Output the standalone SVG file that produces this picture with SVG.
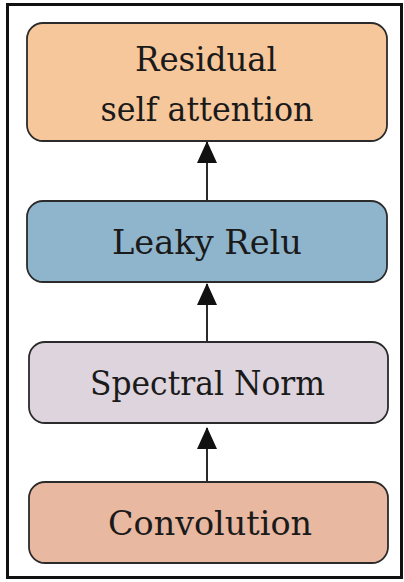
<svg xmlns="http://www.w3.org/2000/svg" width="404" height="582" viewBox="0 0 404 582">
  <style>
    .box { stroke: #2b2b2b; stroke-width: 1.8; }
    .lbl { font-family: 'DejaVu Serif', serif; font-size: 34px; fill: #1a1a1a; text-anchor: middle; }
    .edge { stroke: #2b2b2b; stroke-width: 2; fill: none; }
  </style>
  <defs>
    <marker id="arrow" viewBox="0 0 22 20" refX="21" refY="10" markerWidth="22" markerHeight="20" markerUnits="userSpaceOnUse" orient="auto">
      <path d="M0,0 L22,10 L0,20 Z" fill="#111"/>
    </marker>
  </defs>
  <rect x="1" y="0" width="402" height="582" fill="#ffffff"/>
  <!-- outer frame -->
  <rect x="7.5" y="4.5" width="394" height="573" fill="none" stroke="#111" stroke-width="3"/>

  <g id="connectors">
    <line class="edge" x1="207" y1="201" x2="207" y2="142" marker-end="url(#arrow)"/>
    <line class="edge" x1="207" y1="342" x2="207" y2="284" marker-end="url(#arrow)"/>
    <line class="edge" x1="207" y1="482" x2="207" y2="428" marker-end="url(#arrow)"/>
  </g>

  <g id="residual-self-attention">
    <rect class="box" x="27" y="23" width="360" height="118" rx="16" fill="#f6c79b"/>
    <text class="lbl" x="206" y="71" textLength="142" lengthAdjust="spacingAndGlyphs">Residual</text>
    <text class="lbl" x="207" y="121" textLength="213" lengthAdjust="spacingAndGlyphs">self attention</text>
  </g>

  <g id="leaky-relu">
    <rect class="box" x="27" y="201" width="360" height="81" rx="16" fill="#8fb5cc"/>
    <text class="lbl" x="207" y="254" textLength="190" lengthAdjust="spacingAndGlyphs">Leaky Relu</text>
  </g>

  <g id="spectral-norm">
    <rect class="box" x="29" y="342" width="359" height="81" rx="16" fill="#ddd4dd"/>
    <text class="lbl" x="207.5" y="395" textLength="235" lengthAdjust="spacingAndGlyphs">Spectral Norm</text>
  </g>

  <g id="convolution">
    <rect class="box" x="29" y="482" width="359" height="81" rx="16" fill="#e8b8a1"/>
    <text class="lbl" x="210" y="535" textLength="204" lengthAdjust="spacingAndGlyphs">Convolution</text>
  </g>
</svg>
